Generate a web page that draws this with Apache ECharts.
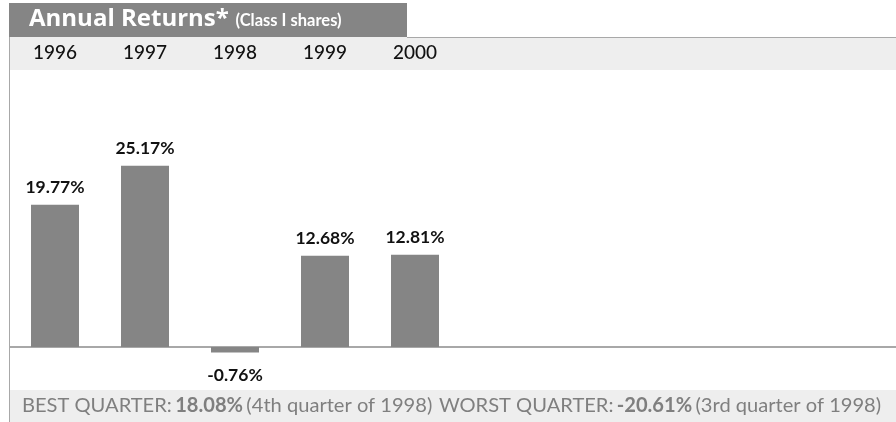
<!DOCTYPE html>
<html><head><meta charset="utf-8">
<script src="https://cdn.jsdelivr.net/npm/echarts@6/dist/echarts.min.js"></script>
<style>html,body{margin:0;padding:0;background:#fff}#c{width:896px;height:422px}</style>
</head><body><div id="c"></div>
<script>
var years = ['1996','1997','1998','1999','2000'];
var returns = [19.77, 25.17, -0.76, 12.68, 12.81];
var titleMain = 'Annual Returns*';
var titleSub = '(Class I shares)';
var bestLabel = 'BEST QUARTER:', bestValue = '18.08%', bestNote = '(4th quarter of 1998)';
var worstLabel = 'WORST QUARTER:', worstValue = '-20.61%', worstNote = '(3rd quarter of 1998)';

var FONT = 'Lato, "Open Sans", sans-serif';
var chart = echarts.init(document.getElementById('c'), null, {renderer:'canvas'});
var option = {
  animation: false,
  grid: {left: 10, width: 450, top: 95, bottom: 39},
  xAxis: {
    type: 'category', data: years, position: 'top',
    axisLine: {show: false, onZero: false}, axisTick: {show: false},
    axisLabel: {margin: 33, color: '#111', fontSize: 19, fontFamily: FONT, fontWeight: 500}
  },
  yAxis: {type: 'value', min: -5, max: 35, show: false},
  graphic: [
    {type: 'rect', shape: {x: 9, y: 3, width: 398, height: 34}, style: {fill: '#858585'}, z: 1},
    {type: 'rect', shape: {x: 9, y: 37, width: 887, height: 33}, style: {fill: '#eeeeee'}, z: 0},
    {type: 'line', shape: {x1: 407, y1: 37.5, x2: 896, y2: 37.5}, style: {stroke: '#a8a8a8', lineWidth: 1}, z: 2},
    {type: 'rect', shape: {x: 9, y: 390, width: 887, height: 32}, style: {fill: '#eeeeee'}, z: 0},
    {type: 'line', shape: {x1: 9.5, y1: 37, x2: 9.5, y2: 422}, style: {stroke: '#a8a8a8', lineWidth: 1}, z: 2},
    {type: 'text', left: 29, top: 7, z: 3, style: {
      text: '{a|' + titleMain + '}  {b|' + titleSub + '}',
      rich: {
        a: {fontSize: 24, fontWeight: 'bold', fill: '#fff', fontFamily: '"Open Sans", sans-serif'},
        b: {fontSize: 16.5, fontWeight: 'bold', fill: '#fff', fontFamily: FONT, padding: [4, 0, 0, 0]}
      }
    }},
    {type: 'text', left: 22, top: 396, z: 3, style: {
      text: '{n|' + bestLabel + '} {v|' + bestValue + '} {n|' + bestNote + '}  {n|' + worstLabel + '} {v|' + worstValue + '} {n|' + worstNote + '}',
      rich: {
        n: {fontSize: 20.1, fill: '#7f7f7f', fontFamily: FONT},
        v: {fontSize: 20.1, fontWeight: 'bold', fill: '#7f7f7f', fontFamily: FONT}
      }
    }}
  ],
  series: [{
    type: 'bar', barWidth: 48,
    itemStyle: {color: '#858585'},
    data: returns.map(function(v){
      return {value: v, label: {position: v < 0 ? 'bottom' : 'top', distance: v < 0 ? 14 : 8}};
    }),
    label: {
      show: true, color: '#111', fontSize: 17.5, fontWeight: 'bold', fontFamily: FONT,
      formatter: function(p){ return p.value.toFixed(2) + '%'; }
    }
  }]
};
chart.setOption(option);
var y0 = chart.convertToPixel({yAxisIndex: 0}, 0);
chart.setOption({graphic: option.graphic.concat([
  {type: 'line', shape: {x1: 9, y1: y0, x2: 896, y2: y0}, style: {stroke: '#a8a8a8', lineWidth: 2}, z: 2}
])});
</script></body></html>
